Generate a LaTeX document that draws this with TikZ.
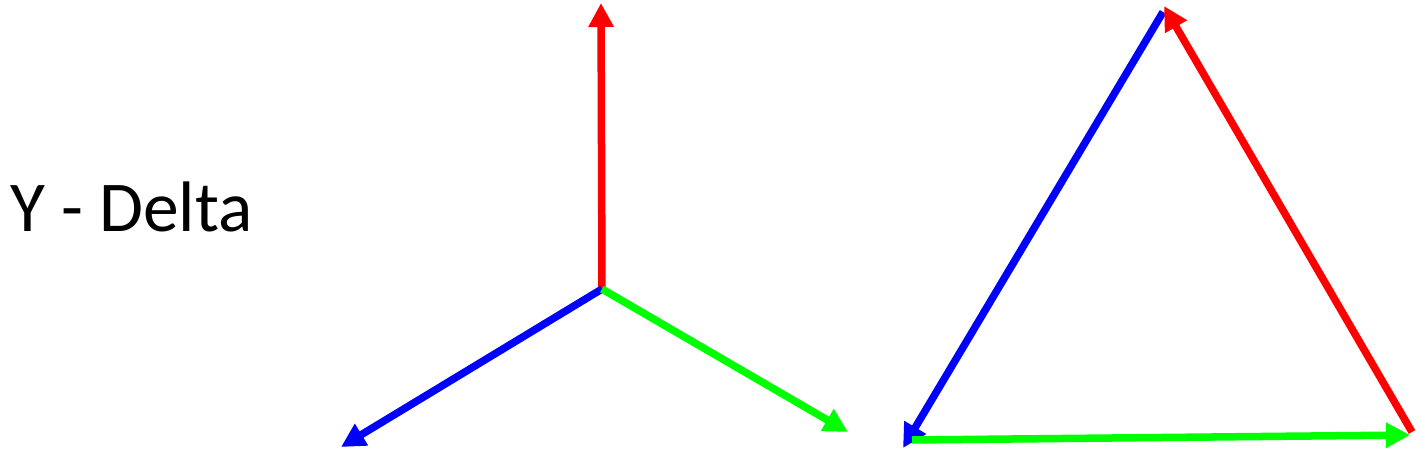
\documentclass[tikz,border=0pt]{standalone}
\usepackage{fontspec}
\setmainfont{Carlito}
\usetikzlibrary{arrows.meta}
\definecolor{cred}{RGB}{255,0,0}
\definecolor{cblue}{RGB}{0,0,255}
\definecolor{cgreen}{RGB}{0,255,0}
\tikzset{
  vec/.style={line width=7.5pt, -{Triangle[width=24pt,length=24pt]}},
}
\begin{document}
\begin{tikzpicture}[x=1pt,y=-1pt]
\useasboundingbox (0,0) rectangle (1421,455);
\node[anchor=base west, inner sep=0pt, font=\fontsize{71.5}{86}\selectfont] (title) at (10,231) {Y - Delta};
% Y
\coordinate (O) at (602,289);
\coordinate (Ya) at (601,3);
\coordinate (Yb) at (341,447);
\coordinate (Yc) at (848,432);
\draw[vec, cred] (O) -- (Ya);
\draw[vec, cblue] (O) -- (Yb);
\draw[vec, cgreen] (O) -- (Yc);
% Delta
\coordinate (T) at (1164,6);
\coordinate (T2) at (1163,12);
\coordinate (L) at (903,448);
\coordinate (L2) at (912,440);
\coordinate (R) at (1410,435);
\coordinate (R2) at (1412,432);
\draw[vec, cblue] (T2) -- (L);
\draw[vec, cgreen] (L2) -- (R);
\draw[vec, cred] (R2) -- (T);
\end{tikzpicture}
\end{document}
